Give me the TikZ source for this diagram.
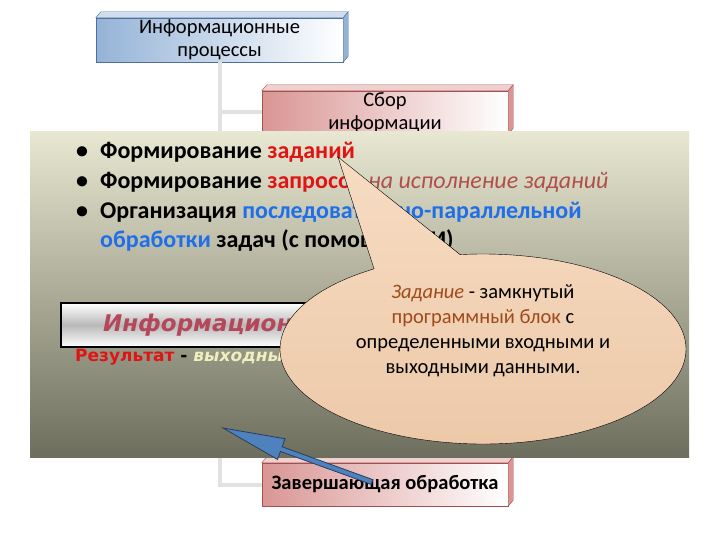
\documentclass[tikz,border=0pt]{standalone}
\usepackage{fontspec}
\setmainfont{Carlito}
\newfontfamily\widefont{DejaVu Sans}
\usepackage{tikz}
\usetikzlibrary{positioning}
\usetikzlibrary{shapes.geometric, shapes.callouts, calc}
\definecolor{procblue}{HTML}{95B3D7}
\definecolor{procedge}{HTML}{4F6FA0}
\definecolor{pinkfill}{HTML}{D99694}
\definecolor{pinkedge}{HTML}{A5504E}
\definecolor{linkgray}{HTML}{E2E2E2}
\definecolor{paneltop}{HTML}{E8E7D1}
\definecolor{panelbottom}{HTML}{6D6E5D}
\definecolor{taskred}{HTML}{E01414}
\definecolor{askbrown}{HTML}{B0504C}
\definecolor{seqblue}{HTML}{1E6FE8}
\definecolor{itred}{HTML}{B5475A}
\definecolor{resultyellow}{HTML}{EFEFC2}
\definecolor{notebrown}{HTML}{9E4B1B}
\definecolor{notetop}{HTML}{F7DCC2}
\definecolor{notebottom}{HTML}{ECC8A8}
\definecolor{arrowblue}{HTML}{4F81BD}
\definecolor{arrowedge}{HTML}{243F60}
\tikzstyle{topbox} = [rectangle, minimum width=247pt, minimum height=44pt, inner sep=0pt, align=center, draw=procedge, left color=procblue, right color=white, font=\fontsize{20.5}{23}\selectfont]
\tikzstyle{pinkbox} = [rectangle, minimum width=246pt, minimum height=43pt, inner sep=0pt, align=center, draw=pinkedge, left color=pinkfill, right color=white, font=\fontsize{20.5}{23}\selectfont]
\tikzstyle{link} = [line width=4pt, draw=linkgray]
\tikzstyle{panel} = [rectangle, minimum width=659pt, minimum height=325pt, inner sep=0pt, top color=paneltop, bottom color=panelbottom]
\tikzstyle{bulletline} = [anchor=west, inner xsep=0pt, inner ysep=3pt, text height=17pt, text depth=6.5pt, font=\fontsize{24}{28}\selectfont\bfseries]
\tikzstyle{itbox} = [rectangle, anchor=west, draw=black, line width=2pt, top color=white, bottom color=white, middle color=gray!55, minimum height=44pt, text width=420pt, inner xsep=42pt, align=left, text=itred, font=\fontsize{23}{26}\widefont\bfseries\itshape]
\tikzstyle{notecloud} = [ellipse callout, minimum width=406pt, minimum height=190pt, draw=black, thin, top color=notetop, bottom color=notebottom, callout pointer arc=26]
\tikzstyle{notefont} = [align=center, font=\fontsize{20.5}{25}\selectfont]
\tikzstyle{arrowblock} = [draw=arrowedge, fill=arrowblue, line width=0.8pt]
\newcommand{\drawslab}[3]{%
  \filldraw[draw=#2, fill=#3!45!white] (#1.north west) -- ++(5,-6) -- ($(#1.north east)+(5,-6)$) -- (#1.north east) -- cycle;
  \filldraw[draw=#2, fill=#3] (#1.north east) -- ++(5,-6) -- ($(#1.south east)+(5,-6)$) -- (#1.south east) -- cycle;
}
\begin{document}
\begin{tikzpicture}[x=1pt, y=-1pt]
        \useasboundingbox (0,0) rectangle (720,540);
        \fill[white] (0,0) rectangle (720,540);
        % tree boxes
        \node (procs) [topbox] at (219.5,40) {Информационные\\процессы};
        \node (sbor) [pinkbox] at (385,112.5) {Сбор\\информации};
        \node (zav) [pinkbox, font=\fontsize{20.5}{23}\selectfont\bfseries] at (385,484.5) {Завершающая обработка};
        \draw [link] (procs.south) |- (sbor.west);
        \draw [link] (procs.south) |- (zav.west);
        \drawslab{procs}{procedge}{procblue}
        \drawslab{sbor}{pinkedge}{pinkfill}
        \drawslab{zav}{pinkedge}{pinkfill}
        % slide panel over the tree
        \node (panel) [panel] at (359.5,294.5) {};
        \node (task1) [bulletline] at (76,153) {\makebox[24pt][l]{\textbullet}Формирование \textcolor{taskred}{заданий}};
        \node (task2) [bulletline, below=0pt of task1.south west, anchor=north west] {\makebox[24pt][l]{\textbullet}Формирование \textcolor{taskred}{запросов} \textcolor{askbrown}{\mdseries\itshape на исполнение заданий}};
        \node (task3) [bulletline, below=0pt of task2.south west, anchor=north west] {\makebox[24pt][l]{\textbullet}Организация \textcolor{seqblue}{последовательно-параллельной}};
        \node (task4) [bulletline, below=0pt of task3.south west, anchor=north west, xshift=24pt] {\textcolor{seqblue}{обработки} задач (с помощью ОИ)};
        \node (itbox) [itbox] at (60,325) {Информационная};
        \node (result) [anchor=base west, inner sep=0pt, font=\fontsize{17}{20}\widefont\bfseries] at (75,361) {\textcolor{taskred}{Результат} - \textcolor{resultyellow}{\itshape выходные данные}};
        % callout
        \coordinate (tip) at (338,157);
        \node (note) [notecloud, callout absolute pointer=(tip)] at (483,349) {};
        \node (notetext) [notefont] at (483,331) {\textcolor{notebrown}{\itshape Задание} - замкнутый\\\textcolor{notebrown}{программный блок} с\\определенными входными и\\выходными данными.};
        % blue arrow
        \coordinate (arrowtip) at (223,428);
        \coordinate (arrowtail) at (372,482);
        \coordinate (arrowneck) at ($(arrowtip)!62pt!(arrowtail)$);
        \filldraw [arrowblock] (arrowtip) -- ($(arrowneck)!11pt!90:(arrowtip)$) -- ($(arrowneck)!2.5pt!90:(arrowtip)$) -- ($(arrowtail)!2.5pt!90:(arrowtip)$) -- ($(arrowtail)!2.5pt!-90:(arrowtip)$) -- ($(arrowneck)!2.5pt!-90:(arrowtip)$) -- ($(arrowneck)!11pt!-90:(arrowtip)$) -- cycle;
\end{tikzpicture}
\end{document}
